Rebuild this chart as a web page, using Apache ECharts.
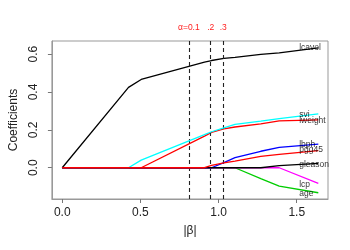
<!DOCTYPE html>
<html>
<head>
<meta charset="utf-8">
<script src="https://cdn.jsdelivr.net/npm/echarts@6/dist/echarts.min.js"></script>
<style>html,body{margin:0;padding:0;background:#fff}#c{width:350px;height:250px}</style>
</head>
<body>
<div id="c"></div>
<script>
// |beta| breakpoints of the path
var steps = [0, 0.424, 0.505, 0.91, 0.955, 1.034, 1.105, 1.27, 1.388, 1.638];
var lcavol  = [0, 0.424, 0.466, 0.558, 0.566, 0.577, 0.583, 0.598, 0.606, 0.633];
var lweight = [0, 0, 0, 0.167, 0.187, 0.205, 0.215, 0.231, 0.247, 0.253];
var age     = [0, 0, 0, 0, 0, 0, 0, -0.057, -0.097, -0.132];
var lbph    = [0, 0, 0, 0, 0, 0.027, 0.053, 0.087, 0.108, 0.125];
var svi     = [0, 0, 0.04, 0.175, 0.19, 0.211, 0.229, 0.246, 0.259, 0.284];
var lcp     = [0, 0, 0, 0, 0, 0, 0, 0, 0, -0.082];
var gleason = [0, 0, 0, 0, 0, 0, 0, 0, 0.011, 0.023];
var pgg45   = [0, 0, 0, 0, 0.012, 0.026, 0.035, 0.06, 0.071, 0.09];

var varNames  = ['lcavol', 'lweight', 'age', 'lbph', 'svi', 'lcp', 'gleason', 'pgg45'];
var varValues = [lcavol, lweight, age, lbph, svi, lcp, gleason, pgg45];
var varColors = ['#000000', '#ff0000', '#00cd00', '#0000ff', '#00ffff', '#ff00ff', '#000000', '#ff0000'];

// right-hand labels
var labelX = 1.516;
var labelNames = ['lcavol', 'svi', 'lweight', 'lbph', 'pgg45', 'gleason', 'lcp', 'age'];
var labelY = [0.633, 0.278, 0.248, 0.123, 0.093, 0.014, -0.091, -0.139];

// alpha cut lines
var alphaX = [0.81, 0.955, 1.026];
var alphaLabels = ['\u03b1=0.1', '.2', '.3'];

var xTicks = [0, 0.5, 1.0, 1.5];
var yTicks = [0, 0.2, 0.4, 0.6];

var FONT = 'Liberation Sans, Arial, Helvetica, sans-serif';

var series = varNames.map(function (n, i) {
  return {
    type: 'line', name: n, silent: true, symbol: 'none',
    lineStyle: { color: varColors[i], width: 1.3 },
    data: steps.map(function (s, j) { return [s, varValues[i][j]]; }),
    z: 2 + i
  };
});

series.push({
  type: 'scatter', silent: true, symbolSize: 0,
  data: labelNames.map(function (n, i) { return { name: n, value: [labelX, labelY[i]] }; }),
  label: { show: true, position: 'right', distance: 0, formatter: '{b}',
           fontFamily: FONT, fontSize: 8.5, color: '#000' },
  markLine: {
    silent: true, symbol: 'none', animation: false,
    lineStyle: { color: '#222', type: [4, 3], width: 1.1 },
    label: { show: true, position: 'end', distance: 9, fontFamily: FONT, fontSize: 8.5,
             color: '#ff2020', formatter: '{b}' },
    data: alphaX.map(function (x, i) { return { xAxis: x, name: alphaLabels[i] }; })
  },
  z: 20
});

var chart = echarts.init(document.getElementById('c'), null, { renderer: 'canvas' });
chart.setOption({
  animation: false,
  backgroundColor: '#fff',
  grid: { left: 41, right: 22, top: 41, bottom: 51, show: true, borderColor: '#999', borderWidth: 1, backgroundColor: 'transparent' },
  xAxis: {
    type: 'value', min: -0.066, max: 1.70,
    name: '|\u03b2|', nameLocation: 'middle', nameGap: 26,
    nameTextStyle: { fontFamily: FONT, fontSize: 12, color: '#222' },
    splitLine: { show: false },
    axisLine: { show: true, onZero: false, lineStyle: { color: '#999', width: 1 } },
    axisTick: { show: true, inside: false, length: 4, lineStyle: { color: '#777', width: 1 }, customValues: xTicks },
    axisLabel: { fontFamily: FONT, fontSize: 12, color: '#222', margin: 8, customValues: xTicks,
                 formatter: function (v) { return v.toFixed(1); } }
  },
  yAxis: {
    type: 'value', min: -0.165, max: 0.669,
    name: 'Coefficients', nameLocation: 'middle', nameGap: 30,
    nameTextStyle: { fontFamily: FONT, fontSize: 12, color: '#222' },
    splitLine: { show: false },
    axisLine: { show: true, onZero: false, lineStyle: { color: '#999', width: 1 } },
    axisTick: { show: true, inside: false, length: 4, lineStyle: { color: '#777', width: 1 }, customValues: yTicks },
    axisLabel: { fontFamily: FONT, fontSize: 12, color: '#222', margin: 12, rotate: 90, customValues: yTicks,
                 formatter: function (v) { return v.toFixed(1); } }
  },
  series: series
});
</script>
</body>
</html>
